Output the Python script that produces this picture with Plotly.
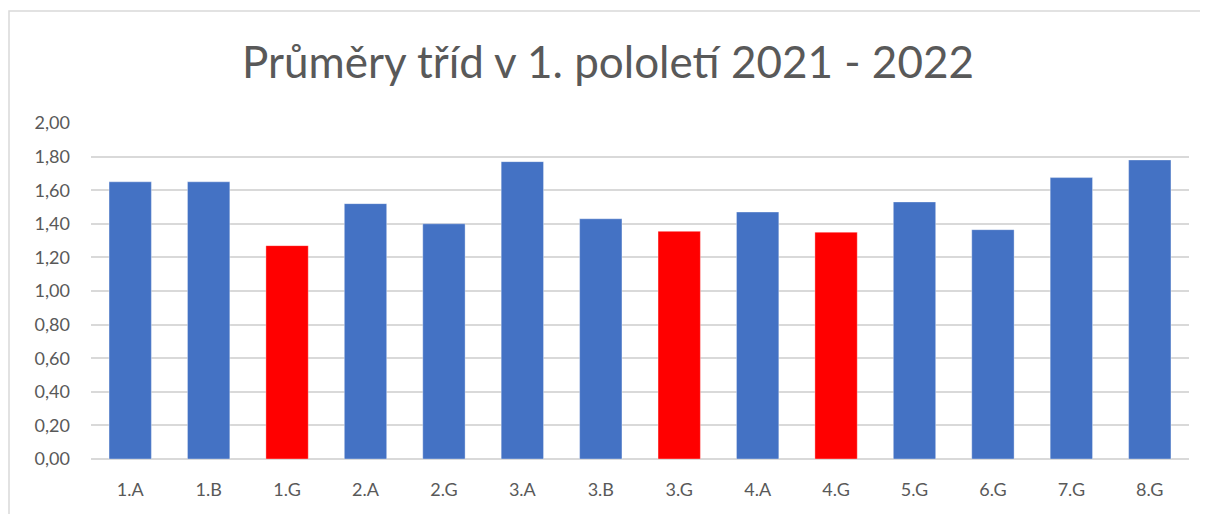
import plotly.graph_objects as go

classes = ["1.A", "1.B", "1.G", "2.A", "2.G", "3.A", "3.B", "3.G", "4.A", "4.G", "5.G", "6.G", "7.G", "8.G"]
averages = [1.65, 1.65, 1.27, 1.52, 1.40, 1.77, 1.43, 1.355, 1.47, 1.35, 1.53, 1.365, 1.675, 1.78]
highlighted = ["1.G", "3.G", "4.G"]
y_ticks = [0.0, 0.2, 0.4, 0.6, 0.8, 1.0, 1.2, 1.4, 1.6, 1.8, 2.0]
y_tick_labels = ["0,00", "0,20", "0,40", "0,60", "0,80", "1,00", "1,20", "1,40", "1,60", "1,80", "2,00"]

BLUE = "#4472C4"
RED = "#FF0000"
colors = [RED if c in highlighted else BLUE for c in classes]

OFF = 8  # default page body margin
W, H = 1208 - OFF, 514 - OFF
ML, MR, MT, MB = 91 - OFF, 19, 123 - OFF, 55
pw, ph = W - ML - MR, H - MT - MB

def px_x(p):
    return (p - OFF - ML) / pw

def px_y(p):
    return (H - MB - (p - OFF)) / ph

fig = go.Figure(go.Bar(
    x=classes, y=averages,
    marker=dict(color=colors, line=dict(color="rgba(255,255,255,0.35)", width=1)),
    hoverinfo="x+y",
))

font_family = "Lato, 'Open Sans', sans-serif"

fig.update_layout(
    width=W, height=H,
    margin=dict(l=ML, r=MR, t=MT, b=MB),
    paper_bgcolor="white", plot_bgcolor="white",
    bargap=0.46,
    showlegend=False,
    font=dict(family=font_family, color="#595959", size=18),
    title=dict(
        text="Průměry tříd v 1. pololetí 2021 - 2022",
        x=0.5, xanchor="center",
        y=1 - (63 - OFF) / H, yanchor="middle",
        font=dict(family=font_family, size=44, color="#595959"),
    ),
    xaxis=dict(
        showgrid=False, showline=False, zeroline=False,
        ticks="", tickfont=dict(size=18, color="#595959"),
        ticklabelstandoff=18,
    ),
    yaxis=dict(
        range=[0, 2.0],
        tickvals=y_ticks, ticktext=y_tick_labels,
        showgrid=True, gridcolor="#D9D9D9", gridwidth=1.5,
        zeroline=True, zerolinecolor="#D9D9D9", zerolinewidth=1.5,
        showline=False, ticks="",
        tickfont=dict(size=18, color="#595959"),
        ticklabelstandoff=20,
    ),
    shapes=[dict(
        type="rect", xref="paper", yref="paper",
        x0=px_x(9), x1=px_x(1215), y0=px_y(525), y1=px_y(11),
        line=dict(color="#D9D9D9", width=1.5), fillcolor="rgba(0,0,0,0)",
        layer="below",
    )],
)

fig.write_html("out.html")
